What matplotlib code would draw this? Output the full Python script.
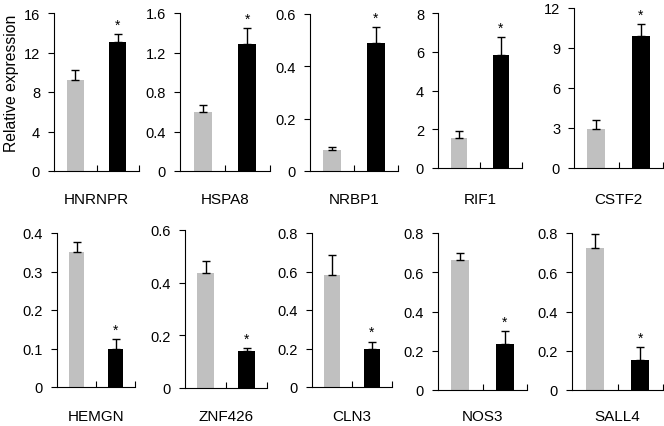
import matplotlib
matplotlib.use("Agg")
import matplotlib.pyplot as plt

plt.rcParams['font.family'] = ['Liberation Sans', 'DejaVu Sans']

# data
genes = ["HNRNPR", "HSPA8", "NRBP1", "RIF1", "CSTF2",
         "HEMGN", "ZNF426", "CLN3", "NOS3", "SALL4"]
gray_vals = [9.25, 0.60, 0.08, 1.56, 2.95, 0.35, 0.436, 0.58, 0.664, 0.723]
gray_err = [0.95, 0.07, 0.01, 0.33, 0.62, 0.027, 0.047, 0.106, 0.036, 0.072]
black_vals = [13.1, 1.286, 0.488, 5.84, 9.9, 0.10, 0.139, 0.196, 0.234, 0.153]
black_err = [0.8, 0.164, 0.061, 0.91, 0.9, 0.024, 0.012, 0.04, 0.066, 0.064]
yticks = [[0, 4, 8, 12, 16], [0, 0.4, 0.8, 1.2, 1.6], [0, 0.2, 0.4, 0.6],
          [0, 2, 4, 6, 8], [0, 3, 6, 9, 12],
          [0, 0.1, 0.2, 0.3, 0.4], [0, 0.2, 0.4, 0.6], [0, 0.2, 0.4, 0.6, 0.8],
          [0, 0.2, 0.4, 0.6, 0.8], [0, 0.2, 0.4, 0.6, 0.8]]

# axes boxes in pixels: x0, x1, ytop, ybottom
boxes = [(54, 139, 14, 172), (180, 270, 14, 172), (310, 398, 15, 172),
         (438, 522, 14, 169), (574, 663, 9, 169),
         (57, 135, 234, 388), (185, 267, 231, 389), (312, 392, 234, 388),
         (438, 527, 234, 391), (572, 663, 234, 391)]

W, H = 664, 427
fig = plt.figure(figsize=(W / 100, H / 100), dpi=100)

for i, g in enumerate(genes):
    x0, x1, yt, yb = boxes[i]
    ax = fig.add_axes([x0 / W, 1 - yb / H, (x1 - x0) / W, (yb - yt) / H])
    ekw = dict(ecolor="black", elinewidth=1, capsize=3, capthick=1)
    ax.bar([0.5], [gray_vals[i]], width=0.4, color="#c0c0c0",
           yerr=[[0], [gray_err[i]]], error_kw=ekw)
    ax.bar([1.5], [black_vals[i]], width=0.4, color="black",
           yerr=[[0], [black_err[i]]], error_kw=ekw)
    top = yticks[i][-1]
    ax.text(1.5, black_vals[i] + black_err[i] + top * 0.015, "*", ha="center", va="bottom", fontsize=10)
    ax.set_xlim(0, 2)
    ax.set_ylim(0, top)
    ax.set_yticks(yticks[i])
    ax.set_yticklabels([("%g" % t) for t in yticks[i]], fontsize=10.5)
    ax.set_xticks([1, 2])
    ax.set_xticklabels([])
    ax.tick_params(axis="x", direction="in", length=4, width=0.8)
    ax.tick_params(axis="y", direction="out", length=4, width=0.8, pad=6)
    for s in ["top", "right"]:
        ax.spines[s].set_visible(False)
    for s in ["left", "bottom"]:
        ax.spines[s].set_linewidth(0.8)
    ly = 200 if i < 5 else 417
    fig.text((x0 + x1) / 2 / W, 1 - ly / H, g, ha="center", va="center", fontsize=11)
    if i == 0:
        fig.text(12 / W, 1 - 83 / H, "Relative expression", rotation=90,
                 ha="center", va="center", fontsize=11.3)

fig.savefig("out.png", dpi=100)
